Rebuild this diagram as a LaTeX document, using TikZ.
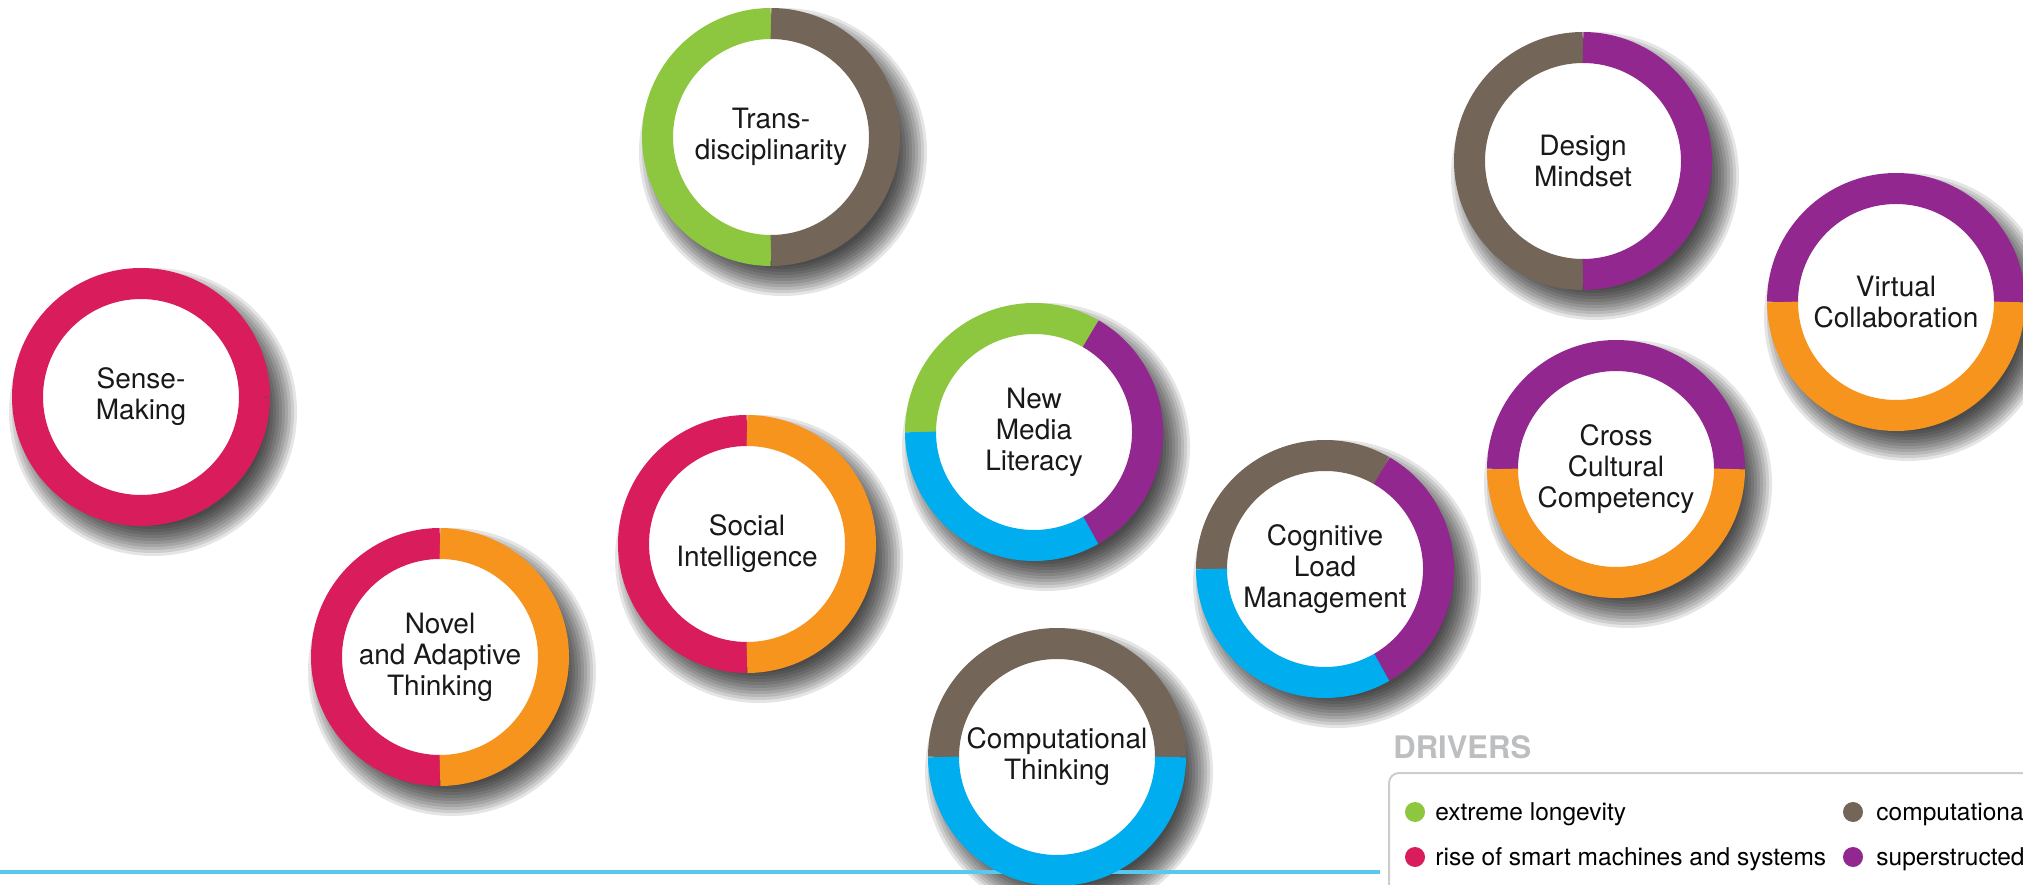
\documentclass[tikz,border=0pt]{standalone}
\usepackage{fontspec}
\setmainfont{TeX Gyre Heros}
\usetikzlibrary{calc}
\definecolor{cred}{RGB}{217,28,92}
\definecolor{corange}{RGB}{247,148,30}
\definecolor{cgreen}{RGB}{141,198,63}
\definecolor{cbrown}{RGB}{115,101,88}
\definecolor{cpurple}{RGB}{146,39,143}
\definecolor{cblue}{RGB}{0,174,239}
\definecolor{cline}{RGB}{90,200,236}
\definecolor{cgraytxt}{RGB}{188,190,192}
\definecolor{cboxline}{RGB}{205,205,205}
\definecolor{ctext}{RGB}{25,25,25}
\tikzset{
  ringseg/.style={line width=15.5pt},
  shadowlayer/.style={fill=black, fill opacity=0.1},
  skilltext/.style={font=\fontsize{14}{15.5}\selectfont, text=ctext, align=center, inner sep=0pt},
  legtext/.style={font=\fontsize{12.25}{14}\selectfont, text=black, anchor=base west, inner sep=0pt},
  legdot/.style={circle, minimum size=10pt, inner sep=0pt},
}
\newcommand{\seg}[4]{\draw[ringseg, #4] (#1) ++(#2:113.5) arc[start angle=#2, end angle=#3, radius=113.5];}
\newcommand{\hole}[1]{\fill[white] (#1) circle (100);}
\begin{document}
\begin{tikzpicture}[x=0.5pt, y=0.5pt]
\useasboundingbox (0,0) rectangle (2023,884);
\clip (0,0) rectangle (2023,884);
\fill[white] (0,0) rectangle (2023,884);
% ring centres
\coordinate (cSense) at (141,487);
\coordinate (cTrans) at (771,747);
\coordinate (cDesign) at (1583,723);
\coordinate (cVirtual) at (1896,582);
\coordinate (cNML) at (1034,452);
\coordinate (cSocial) at (747,340);
\coordinate (cNovel) at (440,227);
\coordinate (cCog) at (1325,315);
\coordinate (cCross) at (1616,415);
\coordinate (cComp) at (1057,127);
% soft shadows (stacked translucent discs)
\foreach \c in {cSense,cTrans,cDesign,cVirtual,cNML,cSocial,cNovel,cCog,cCross,cComp}
  \foreach \r in {114,117,...,146}
    \fill[shadowlayer] ($(\c)+(12,-15)$) circle (\r);
% legend background and bottom rule
\fill[white] (1381,0) rectangle (2023,154);
\coordinate (lineL) at (0,12);
\coordinate (lineR) at (1380,12);
\draw[cline, line width=2pt] (lineL) -- (lineR);
% rings
\hole{cSense}
\seg{cSense}{0}{360}{cred}
\hole{cTrans}
\seg{cTrans}{90}{270}{cgreen}
\seg{cTrans}{-90}{90}{cbrown}
\hole{cDesign}
\seg{cDesign}{90}{270}{cbrown}
\seg{cDesign}{-90}{90}{cpurple}
\hole{cVirtual}
\seg{cVirtual}{0}{180}{cpurple}
\seg{cVirtual}{180}{360}{corange}
\hole{cNML}
\seg{cNML}{60}{180}{cgreen}
\seg{cNML}{-60}{60}{cpurple}
\seg{cNML}{180}{300}{cblue}
\hole{cSocial}
\seg{cSocial}{90}{270}{cred}
\seg{cSocial}{-90}{90}{corange}
\hole{cNovel}
\seg{cNovel}{90}{270}{cred}
\seg{cNovel}{-90}{90}{corange}
\hole{cCog}
\seg{cCog}{60}{180}{cbrown}
\seg{cCog}{-60}{60}{cpurple}
\seg{cCog}{180}{300}{cblue}
\hole{cCross}
\seg{cCross}{0}{180}{cpurple}
\seg{cCross}{180}{360}{corange}
\hole{cComp}
\seg{cComp}{0}{180}{cbrown}
\seg{cComp}{180}{360}{cblue}
% labels
\node[skilltext] (sense) at (cSense) {Sense-\\Making};
\node[skilltext] (trans) at (cTrans) {Trans-\\disciplinarity};
\node[skilltext] (design) at (cDesign) {Design\\Mindset};
\node[skilltext] (virtual) at (cVirtual) {Virtual\\Collaboration};
\node[skilltext] (nml) at (cNML) {New\\Media\\Literacy};
\node[skilltext] (social) at (cSocial) {Social\\Intelligence};
\node[skilltext] (novel) at (cNovel) {Novel\\and Adaptive\\Thinking};
\node[skilltext] (cog) at (cCog) {Cognitive\\Load\\Management};
\node[skilltext] (cross) at (cCross) {Cross\\Cultural\\Competency};
\node[skilltext] (comp) at (cComp) {Computational\\Thinking};
% legend
\node[anchor=base west, inner sep=0pt, font=\bfseries\fontsize{15.5}{18}\selectfont, text=cgraytxt] (drivers) at (1393,126) {DRIVERS};
\node[draw=cboxline, line width=1pt, rounded corners=5pt, anchor=north west, minimum width=360pt, minimum height=80pt, inner sep=0pt] (legbox) at (1388,112) {};
\node[legdot, fill=cgreen] (d1) at (1415,72) {};
\node[legdot, fill=cred] (d2) at (1415,27) {};
\node[legdot, fill=cbrown] (d3) at (1853,72) {};
\node[legdot, fill=cpurple] (d4) at (1853,27) {};
\node[legtext] (t1) at (1435,64) {extreme longevity};
\node[legtext] (t2) at (1435,19) {rise of smart machines and systems};
\node[legtext] (t3) at (1876,64) {computational};
\node[legtext] (t4) at (1876,19) {superstructed};
\end{tikzpicture}
\end{document}
